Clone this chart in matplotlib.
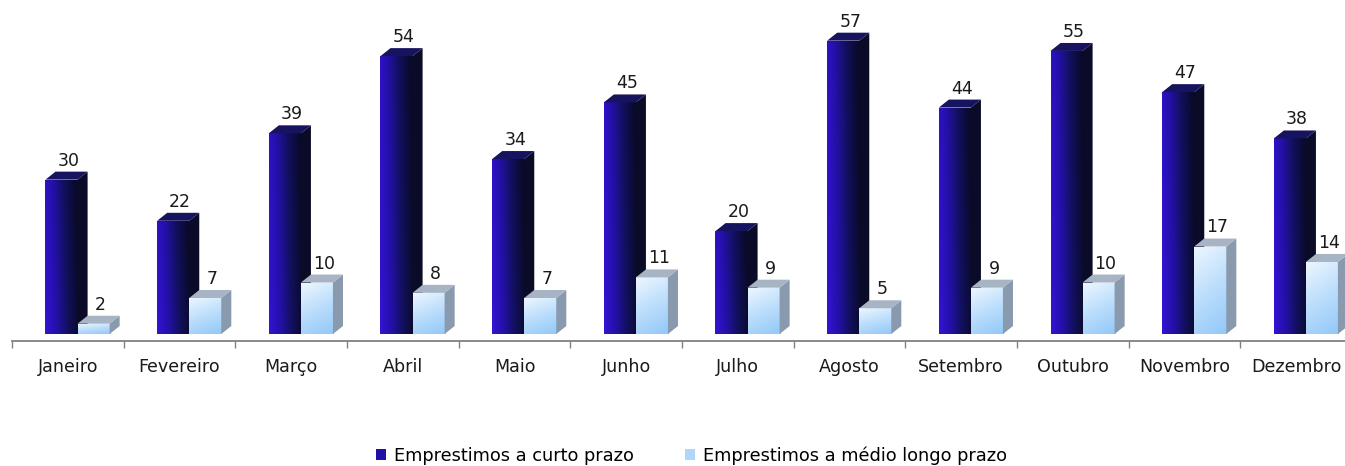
import numpy as np
import matplotlib
matplotlib.use("Agg")
import matplotlib.pyplot as plt
from matplotlib.patches import Polygon, Rectangle
from matplotlib.colors import LinearSegmentedColormap

meses = ["Janeiro", "Fevereiro", "Março", "Abril", "Maio", "Junho",
         "Julho", "Agosto", "Setembro", "Outubro", "Novembro", "Dezembro"]
curto_prazo = [30, 22, 39, 54, 34, 45, 20, 57, 44, 55, 47, 38]
medio_longo_prazo = [2, 7, 10, 8, 7, 11, 9, 5, 9, 10, 17, 14]

plt.rcParams["font.family"] = ["DejaVu Sans"]

W, H = 1345, 466
fig = plt.figure(figsize=(W / 100, H / 100), dpi=100)
# axes spans 12..1352 px horizontally, spine at 341 px from top
ax = fig.add_axes([12 / W, (H - 341) / H, 1340 / W, 341 / H])
ax.set_xlim(0, 12)
ax.set_ylim(-1.36, 64.9)

bar_w = 0.287      # front face width
dx, dy = 0.09, 1.55  # depth offset of the 3D effect

dark_cmap = LinearSegmentedColormap.from_list(
    "dark", ["#3214d4", "#2410a8", "#12105e", "#0a0a2c"])
light_cmap = LinearSegmentedColormap.from_list(
    "light", ["#92c8f8", "#bcdefc", "#eef7ff"])

xs = np.linspace(0, 1, 64)
yy = np.linspace(0, 1, 64)
gx, gy = np.meshgrid(xs, yy)


def bar3d(x0, h, cmap, side, top, grad):
    # front face with gradient
    rect = Rectangle((x0, 0), bar_w, h, transform=ax.transData)
    im = ax.imshow(grad, cmap=cmap, extent=(x0, x0 + bar_w, 0, h),
                   origin="lower", aspect="auto", interpolation="bilinear",
                   vmin=0, vmax=1, zorder=2)
    im.set_clip_path(rect)
    # side face
    ax.add_patch(Polygon([(x0 + bar_w, 0), (x0 + bar_w + dx, dy),
                          (x0 + bar_w + dx, h + dy), (x0 + bar_w, h)],
                         closed=True, facecolor=side, edgecolor="none", zorder=2))
    # top face
    ax.add_patch(Polygon([(x0, h), (x0 + dx, h + dy),
                          (x0 + bar_w + dx, h + dy), (x0 + bar_w, h)],
                         closed=True, facecolor=top, edgecolor="none", zorder=2))


dark_grad = np.clip(gx * 0.95 + gy * 0.12, 0, 1)
light_grad = np.clip(gy * 0.75 + (1 - gx) * 0.25, 0, 1)

for i, (a, b) in enumerate(zip(curto_prazo, medio_longo_prazo)):
    c = i + 0.5
    x_dark = c - 0.2
    x_light = x_dark + bar_w
    bar3d(x_dark, a, dark_cmap, "#0a0b26", "#16145e", dark_grad)
    bar3d(x_light, b, light_cmap, "#8a9aae", "#a6b4c4", light_grad)
    ax.text(x_dark + bar_w / 2 + dx * 0.7, a + dy + 0.4, str(a),
            ha="center", va="bottom", fontsize=12.5, color="#1a1a1a")
    ax.text(x_light + bar_w / 2 + dx * 0.7, b + dy + 0.4, str(b),
            ha="center", va="bottom", fontsize=12.5, color="#1a1a1a")

for s in ["top", "right", "left"]:
    ax.spines[s].set_visible(False)
ax.spines["bottom"].set_color("#808080")
ax.spines["bottom"].set_linewidth(1.3)
ax.set_yticks([])
ax.set_xticks(np.arange(0, 13))
ax.set_xticklabels([])
ax.set_xticks(np.arange(12) + 0.5, minor=True)
ax.set_xticklabels(meses, minor=True, fontsize=12.6, color="#1a1a1a")
ax.tick_params(axis="x", which="major", length=5, width=1, color="#808080")
ax.tick_params(axis="x", which="minor", length=0, pad=12)

h1 = Rectangle((0, 0), 1, 1, facecolor="#2010a8")
h2 = Rectangle((0, 0), 1, 1, facecolor="#b0d6fa")
fig.legend([h1, h2], ["Emprestimos a curto prazo", "Emprestimos a médio longo prazo"],
           loc="lower center", bbox_to_anchor=(0.514, -0.032), ncol=2, frameon=False,
           fontsize=12.8, handlelength=0.55, handleheight=0.55, handletextpad=0.45,
           columnspacing=2.9)

fig.savefig("out.png", dpi=100)
